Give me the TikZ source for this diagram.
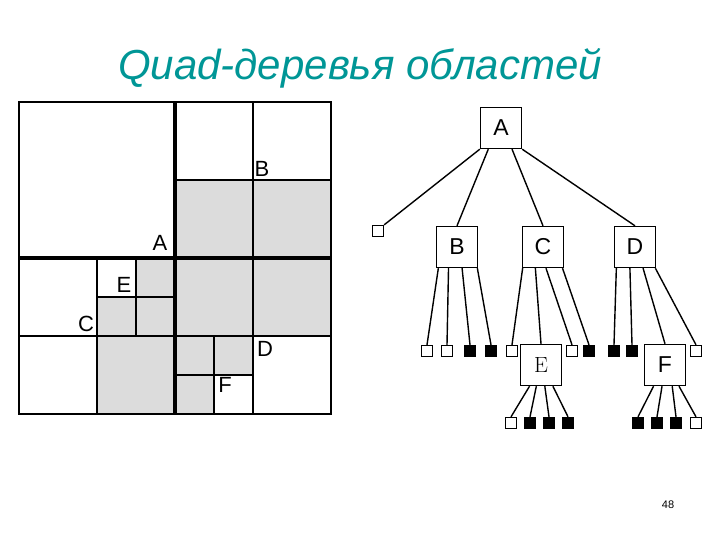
\documentclass[tikz,border=0pt]{standalone}
\usepackage{fontspec}
\setmainfont{Liberation Sans}
\usetikzlibrary{calc}
\definecolor{teal1}{RGB}{0,150,150}
\definecolor{grayfill}{RGB}{220,220,220}
\begin{document}
\begin{tikzpicture}[x=1pt,y=-1pt,
  gl/.style={line width=1.5pt},
  gk/.style={line width=3.2pt},
  lab/.style={font=\fontsize{22}{22}\selectfont,inner sep=0pt},
  tbox/.style={draw,line width=1.4pt,minimum size=41pt,inner sep=0pt,font=\fontsize{23}{23}\selectfont,fill=white},
  wl/.style={draw,line width=1.3pt,minimum size=11pt,inner sep=0pt,fill=white},
  bl/.style={draw,line width=1.3pt,minimum size=11pt,inner sep=0pt,fill=black},
  ed/.style={line width=1.4pt}]
\useasboundingbox (0,0) rectangle (720,540);
\node[text=teal1,font=\fontsize{42}{42}\selectfont\itshape] (title) at (360,68) {Quad-деревья областей};
\node[font=\fontsize{11}{11}\selectfont] (pg) at (668,505) {48};
% shading
\fill[grayfill] (175,180) rectangle (331,258);
\fill[grayfill] (136,258) rectangle (175,297);
\fill[grayfill] (97,297) rectangle (175,336);
\fill[grayfill] (97,336) rectangle (175,414);
\fill[grayfill] (175,258) rectangle (331,336);
\fill[grayfill] (175,336) rectangle (214,414);
\fill[grayfill] (214,336) rectangle (253,375);
% lines
\draw[gl] (19,102) rectangle (331,414);
\draw[gl] (253,102) -- (253,414);
\draw[gl] (175,180) -- (331,180);
\draw[gl] (19,336) -- (331,336);
\draw[gl] (97,258) -- (97,414);
\draw[gl] (136,258) -- (136,336);
\draw[gl] (97,297) -- (175,297);
\draw[gl] (214,336) -- (214,414);
\draw[gl] (175,375) -- (253,375);
\draw[gk] (175,102) -- (175,414);
\draw[gk] (19,258) -- (331,258);
\node[lab] (lA) at (160,243) {A};
\node[lab] (lB) at (262,169) {B};
\node[lab] (lC) at (86,324) {C};
\node[lab] (lE) at (124,285) {E};
\node[lab] (lD) at (265,349) {D};
\node[lab] (lF) at (225,385) {F};
% tree
\node[tbox] (A) at (501,128) {A};
\node[tbox] (B) at (457,247) {B};
\node[tbox] (C) at (543,247) {C};
\node[tbox] (D) at (635,247) {D};
\node[wl] (l0) at (378,231) {};
\node[wl] (b1) at (427,351) {};
\node[wl] (b2) at (447,351) {};
\node[bl] (b3) at (470,351) {};
\node[bl] (b4) at (491,351) {};
\node[wl] (c1) at (512,351) {};
\node[wl] (c3) at (572,351) {};
\node[bl] (c4) at (589,351) {};
\node[bl] (d1) at (614,351) {};
\node[bl] (d2) at (632,351) {};
\node[wl] (d4) at (696,351) {};
\node[tbox,font=\rmfamily\fontsize{22}{22}\selectfont] (E) at (541,365) {\fontspec{Latin Modern Roman}E};
\node[tbox] (F) at (665,365) {F};
\node[wl] (e1) at (511,423) {};
\node[bl] (e2) at (530,423) {};
\node[bl] (e3) at (549,423) {};
\node[bl] (e4) at (568,423) {};
\node[bl] (f1) at (638,423) {};
\node[bl] (f2) at (657,423) {};
\node[bl] (f3) at (676,423) {};
\node[wl] (f4) at (696,423) {};
\foreach \p/\f/\c in {A/0/l0.north east,A/0.2/B.north,A/0.76/C.north,A/1/D.north,
  B/0.06/b1.north,B/0.3/b2.north,B/0.62/b3.north,B/0.98/b4.north,
  C/0.02/c1.north,C/0.32/E.north,C/0.57/c3.north,C/0.96/c4.north,
  D/0.06/d1.north,D/0.38/d2.north,D/0.69/F.north,D/0.98/d4.north,
  E/0.23/e1.north,E/0.39/e2.north,E/0.59/e3.north,E/0.78/e4.north,
  F/0.23/f1.north,F/0.43/f2.north,F/0.67/f3.north,F/0.83/f4.north}
  \draw[ed] ($(\p.south west)!\f!(\p.south east)$) -- (\c);
\end{tikzpicture}
\end{document}
